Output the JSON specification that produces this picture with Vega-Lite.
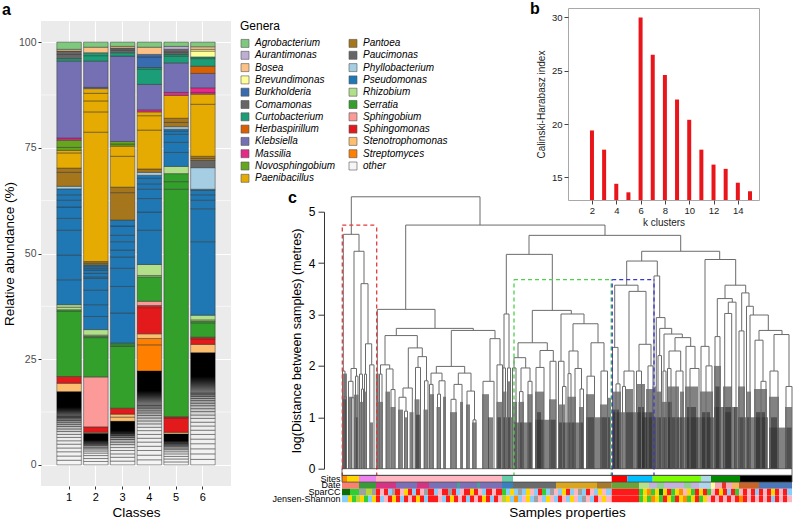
{
"$schema":"https://vega.github.io/schema/vega-lite/v6.json",
"background":"white",
"padding":{"left":2,"top":0,"right":0,"bottom":0},
"bounds":"flush",
"spacing":301,
"resolve":{"scale":{"x":"independent","y":"independent","color":"independent"},"axis":{"x":"independent","y":"independent"},"legend":{"color":"independent"}},
"config":{"font":"Liberation Sans","view":{"stroke":null}},
"datasets":{
"abund":[
{"c":1,"g":"other","v":1.1},{"c":1,"g":"other","v":1.0},{"c":1,"g":"other","v":1.0},{"c":1,"g":"other","v":0.9},{"c":1,"g":"other","v":0.9},{"c":1,"g":"other","v":0.8},{"c":1,"g":"other","v":0.8},{"c":1,"g":"other","v":0.7},{"c":1,"g":"other","v":0.7},{"c":1,"g":"other","v":0.6},{"c":1,"g":"other","v":0.6},{"c":1,"g":"other","v":0.5},{"c":1,"g":"other","v":0.5},{"c":1,"g":"other","v":0.4},{"c":1,"g":"other","v":0.4},{"c":1,"g":"other","v":0.3},{"c":1,"g":"other","v":0.3},{"c":1,"g":"other","v":5.8},
{"c":1,"g":"Stenotrophomonas","v":2.0},{"c":1,"g":"Sphingomonas","v":1.6},{"c":1,"g":"Serratia","v":15.4},{"c":1,"g":"Serratia","v":0.4},{"c":1,"g":"Rhizobium","v":0.6},{"c":1,"g":"Rhizobium","v":0.6},
{"c":1,"g":"Pseudomonas","v":5.9},{"c":1,"g":"Pseudomonas","v":5.8},{"c":1,"g":"Pseudomonas","v":5.9},{"c":1,"g":"Pseudomonas","v":2.8},{"c":1,"g":"Pseudomonas","v":2.7},{"c":1,"g":"Pseudomonas","v":1.6},{"c":1,"g":"Pseudomonas","v":1.3},{"c":1,"g":"Pseudomonas","v":1.4},
{"c":1,"g":"Phyllobacterium","v":0.6},{"c":1,"g":"Pantoea","v":3.3},{"c":1,"g":"Pantoea","v":1.0},{"c":1,"g":"Paenibacillus","v":3.6},{"c":1,"g":"Paenibacillus","v":0.6},{"c":1,"g":"Novosphingobium","v":0.7},{"c":1,"g":"Novosphingobium","v":1.7},{"c":1,"g":"Massilia","v":0.5},{"c":1,"g":"Klebsiella","v":18.2},{"c":1,"g":"Curtobacterium","v":0.6},{"c":1,"g":"Comamonas","v":1.0},{"c":1,"g":"Comamonas","v":0.8},{"c":1,"g":"Bosea","v":0.4},{"c":1,"g":"Agrobacterium","v":1.7},
{"c":2,"g":"other","v":0.8},{"c":2,"g":"other","v":0.7},{"c":2,"g":"other","v":0.7},{"c":2,"g":"other","v":0.6},{"c":2,"g":"other","v":0.5},{"c":2,"g":"other","v":0.5},{"c":2,"g":"other","v":0.4},{"c":2,"g":"other","v":0.4},{"c":2,"g":"other","v":0.3},{"c":2,"g":"other","v":0.3},{"c":2,"g":"other","v":2.2},
{"c":2,"g":"Stenotrophomonas","v":0.3},{"c":2,"g":"Sphingomonas","v":1.3},{"c":2,"g":"Sphingobium","v":11.8},{"c":2,"g":"Serratia","v":9.3},{"c":2,"g":"Serratia","v":0.3},{"c":2,"g":"Rhizobium","v":0.3},{"c":2,"g":"Rhizobium","v":1.3},
{"c":2,"g":"Pseudomonas","v":3.1},{"c":2,"g":"Pseudomonas","v":2.8},{"c":2,"g":"Pseudomonas","v":3.5},{"c":2,"g":"Pseudomonas","v":2.7},{"c":2,"g":"Pseudomonas","v":0.4},{"c":2,"g":"Pseudomonas","v":0.8},{"c":2,"g":"Pseudomonas","v":0.8},{"c":2,"g":"Pseudomonas","v":0.4},{"c":2,"g":"Pseudomonas","v":0.4},{"c":2,"g":"Pseudomonas","v":0.4},
{"c":2,"g":"Pantoea","v":0.4},{"c":2,"g":"Pantoea","v":0.4},{"c":2,"g":"Paenibacillus","v":30.6},{"c":2,"g":"Paenibacillus","v":4.8},{"c":2,"g":"Paenibacillus","v":2.6},{"c":2,"g":"Paenibacillus","v":1.8},{"c":2,"g":"Paenibacillus","v":1.1},{"c":2,"g":"Klebsiella","v":0.3},{"c":2,"g":"Klebsiella","v":6.2},{"c":2,"g":"Curtobacterium","v":1.3},{"c":2,"g":"Curtobacterium","v":0.7},{"c":2,"g":"Bosea","v":1.3},{"c":2,"g":"Agrobacterium","v":1.2},
{"c":3,"g":"other","v":0.9},{"c":3,"g":"other","v":0.9},{"c":3,"g":"other","v":0.8},{"c":3,"g":"other","v":0.8},{"c":3,"g":"other","v":0.7},{"c":3,"g":"other","v":0.7},{"c":3,"g":"other","v":0.6},{"c":3,"g":"other","v":0.6},{"c":3,"g":"other","v":0.5},{"c":3,"g":"other","v":0.5},{"c":3,"g":"other","v":0.4},{"c":3,"g":"other","v":0.4},{"c":3,"g":"other","v":2.5},
{"c":3,"g":"Stenotrophomonas","v":1.0},{"c":3,"g":"Stenotrophomonas","v":0.7},{"c":3,"g":"Sphingomonas","v":1.4},{"c":3,"g":"Serratia","v":14.6},{"c":3,"g":"Serratia","v":0.4},{"c":3,"g":"Serratia","v":0.4},
{"c":3,"g":"Pseudomonas","v":7.1},{"c":3,"g":"Pseudomonas","v":6.3},{"c":3,"g":"Pseudomonas","v":4.3},{"c":3,"g":"Pseudomonas","v":2.7},{"c":3,"g":"Pseudomonas","v":1.6},{"c":3,"g":"Pseudomonas","v":2.0},{"c":3,"g":"Pseudomonas","v":1.5},{"c":3,"g":"Pseudomonas","v":2.2},{"c":3,"g":"Pseudomonas","v":1.4},
{"c":3,"g":"Pantoea","v":6.5},{"c":3,"g":"Pantoea","v":1.3},{"c":3,"g":"Paenibacillus","v":7.3},{"c":3,"g":"Paenibacillus","v":2.4},{"c":3,"g":"Novosphingobium","v":0.5},{"c":3,"g":"Novosphingobium","v":0.6},{"c":3,"g":"Klebsiella","v":20.2},{"c":3,"g":"Curtobacterium","v":0.8},{"c":3,"g":"Comamonas","v":0.6},{"c":3,"g":"Comamonas","v":0.5},{"c":3,"g":"Bosea","v":0.4},{"c":3,"g":"Agrobacterium","v":1.0},
{"c":4,"g":"other","v":1.2},{"c":4,"g":"other","v":1.1},{"c":4,"g":"other","v":1.1},{"c":4,"g":"other","v":1.0},{"c":4,"g":"other","v":1.0},{"c":4,"g":"other","v":0.9},{"c":4,"g":"other","v":0.9},{"c":4,"g":"other","v":0.9},{"c":4,"g":"other","v":0.8},{"c":4,"g":"other","v":0.8},{"c":4,"g":"other","v":0.7},{"c":4,"g":"other","v":0.7},{"c":4,"g":"other","v":0.6},{"c":4,"g":"other","v":0.6},{"c":4,"g":"other","v":0.5},{"c":4,"g":"other","v":0.5},{"c":4,"g":"other","v":0.4},{"c":4,"g":"other","v":0.4},{"c":4,"g":"other","v":8.1},
{"c":4,"g":"Streptomyces","v":6.2},{"c":4,"g":"Streptomyces","v":1.5},{"c":4,"g":"Stenotrophomonas","v":1.1},{"c":4,"g":"Sphingomonas","v":6.2},{"c":4,"g":"Sphingomonas","v":0.5},{"c":4,"g":"Sphingobium","v":1.0},{"c":4,"g":"Serratia","v":5.8},{"c":4,"g":"Rhizobium","v":0.3},{"c":4,"g":"Rhizobium","v":2.6},
{"c":4,"g":"Pseudomonas","v":8.1},{"c":4,"g":"Pseudomonas","v":4.3},{"c":4,"g":"Pseudomonas","v":3.2},{"c":4,"g":"Pseudomonas","v":2.2},{"c":4,"g":"Pseudomonas","v":1.3},{"c":4,"g":"Pseudomonas","v":1.3},{"c":4,"g":"Pseudomonas","v":0.7},
{"c":4,"g":"Phyllobacterium","v":0.7},{"c":4,"g":"Pantoea","v":0.8},{"c":4,"g":"Paenibacillus","v":9.2},{"c":4,"g":"Paenibacillus","v":3.4},{"c":4,"g":"Paenibacillus","v":0.9},{"c":4,"g":"Massilia","v":0.5},{"c":4,"g":"Klebsiella","v":6.0},{"c":4,"g":"Curtobacterium","v":3.6},{"c":4,"g":"Curtobacterium","v":0.4},{"c":4,"g":"Burkholderia","v":2.5},{"c":4,"g":"Burkholderia","v":0.6},{"c":4,"g":"Bosea","v":1.7},{"c":4,"g":"Agrobacterium","v":1.2},
{"c":5,"g":"other","v":0.7},{"c":5,"g":"other","v":0.7},{"c":5,"g":"other","v":0.6},{"c":5,"g":"other","v":0.6},{"c":5,"g":"other","v":0.5},{"c":5,"g":"other","v":0.5},{"c":5,"g":"other","v":0.4},{"c":5,"g":"other","v":0.4},{"c":5,"g":"other","v":0.3},{"c":5,"g":"other","v":0.3},{"c":5,"g":"other","v":2.3},
{"c":5,"g":"Stenotrophomonas","v":0.4},{"c":5,"g":"Sphingomonas","v":3.4},{"c":5,"g":"Sphingomonas","v":0.3},{"c":5,"g":"Serratia","v":53.8},{"c":5,"g":"Serratia","v":1.8},{"c":5,"g":"Serratia","v":1.9},{"c":5,"g":"Rhizobium","v":1.7},
{"c":5,"g":"Pseudomonas","v":3.3},{"c":5,"g":"Pseudomonas","v":2.4},{"c":5,"g":"Pseudomonas","v":1.9},{"c":5,"g":"Pseudomonas","v":0.8},{"c":5,"g":"Pseudomonas","v":0.4},
{"c":5,"g":"Phyllobacterium","v":0.6},{"c":5,"g":"Pantoea","v":1.0},{"c":5,"g":"Pantoea","v":1.0},{"c":5,"g":"Paenibacillus","v":5.4},{"c":5,"g":"Massilia","v":0.7},{"c":5,"g":"Klebsiella","v":7.0},{"c":5,"g":"Curtobacterium","v":1.6},{"c":5,"g":"Curtobacterium","v":0.4},{"c":5,"g":"Comamonas","v":0.6},{"c":5,"g":"Comamonas","v":0.6},{"c":5,"g":"Aurantimonas","v":0.7},{"c":5,"g":"Agrobacterium","v":1.0},
{"c":6,"g":"other","v":1.3},{"c":6,"g":"other","v":1.3},{"c":6,"g":"other","v":1.2},{"c":6,"g":"other","v":1.2},{"c":6,"g":"other","v":1.1},{"c":6,"g":"other","v":1.1},{"c":6,"g":"other","v":1.0},{"c":6,"g":"other","v":1.0},{"c":6,"g":"other","v":0.9},{"c":6,"g":"other","v":0.9},{"c":6,"g":"other","v":0.8},{"c":6,"g":"other","v":0.8},{"c":6,"g":"other","v":0.7},{"c":6,"g":"other","v":0.7},{"c":6,"g":"other","v":0.6},{"c":6,"g":"other","v":0.6},{"c":6,"g":"other","v":0.5},{"c":6,"g":"other","v":0.5},{"c":6,"g":"other","v":0.4},{"c":6,"g":"other","v":0.4},{"c":6,"g":"other","v":9.5},
{"c":6,"g":"Stenotrophomonas","v":2.0},{"c":6,"g":"Sphingomonas","v":1.3},{"c":6,"g":"Sphingomonas","v":0.4},{"c":6,"g":"Serratia","v":3.4},{"c":6,"g":"Serratia","v":0.4},{"c":6,"g":"Rhizobium","v":0.3},{"c":6,"g":"Rhizobium","v":1.1},
{"c":6,"g":"Pseudomonas","v":17.4},{"c":6,"g":"Pseudomonas","v":7.8},{"c":6,"g":"Pseudomonas","v":2.0},{"c":6,"g":"Pseudomonas","v":1.3},{"c":6,"g":"Pseudomonas","v":1.0},{"c":6,"g":"Pseudomonas","v":0.3},
{"c":6,"g":"Phyllobacterium","v":5.1},{"c":6,"g":"Paucimonas","v":1.7},{"c":6,"g":"Pantoea","v":0.5},{"c":6,"g":"Pantoea","v":0.5},{"c":6,"g":"Paenibacillus","v":12.3},{"c":6,"g":"Paenibacillus","v":2.4},{"c":6,"g":"Massilia","v":0.4},{"c":6,"g":"Massilia","v":1.1},{"c":6,"g":"Klebsiella","v":3.4},{"c":6,"g":"Herbaspirillum","v":1.7},{"c":6,"g":"Curtobacterium","v":1.8},{"c":6,"g":"Curtobacterium","v":0.4},{"c":6,"g":"Brevundimonas","v":1.4},{"c":6,"g":"Brevundimonas","v":0.4},{"c":6,"g":"Bosea","v":0.6},{"c":6,"g":"Agrobacterium","v":1.1}
],
"minor":[{"m":12.5},{"m":37.5},{"m":62.5},{"m":87.5}],
"ch":[{"k":2,"v":19.4},{"k":3,"v":17.6},{"k":4,"v":14.4},{"k":5,"v":13.6},{"k":6,"v":30.0},{"k":7,"v":26.5},{"k":8,"v":24.6},{"k":9,"v":22.3},{"k":10,"v":20.4},{"k":11,"v":17.6},{"k":12,"v":16.2},{"k":13,"v":15.8},{"k":14,"v":14.5},{"k":15,"v":13.7}],
"vl":[
{"x":9.3,"y":4.56,"y2":5.29},{"x":138,"y":4.74,"y2":5.29},{"x":1.3,"y":1.9,"y2":4.56},{"x":0.5,"y":0,"y2":1.9},{"x":3,"y":1.4,"y2":1.9},{"x":2,"y":0,"y2":1.4},{"x":4.5,"y":0,"y2":1.4},{"x":17,"y":4.23,"y2":4.56},{"x":12,"y":1.95,"y2":4.23},{"x":9,"y":1.7,"y2":1.95},{"x":6.5,"y":0,"y2":1.7},{"x":11,"y":1.38,"y2":1.7},{"x":9.5,"y":0,"y2":1.38},{"x":12,"y":0,"y2":1.38},{"x":14.5,"y":1.8,"y2":1.95},{"x":13.5,"y":0,"y2":1.8},{"x":16,"y":0,"y2":1.8},{"x":22,"y":3.6,"y2":4.23},{"x":19,"y":1.84,"y2":3.6},{"x":17.5,"y":0,"y2":1.84},{"x":20.5,"y":1.55,"y2":1.84},{"x":19.5,"y":0,"y2":1.55},{"x":21.5,"y":0,"y2":1.55},{"x":26,"y":2.43,"y2":3.6},{"x":23.5,"y":1.84,"y2":2.43},{"x":22.5,"y":0,"y2":1.84},{"x":24.5,"y":0,"y2":1.84},{"x":29.7,"y":2.02,"y2":2.43},{"x":27.7,"y":0,"y2":2.02},{"x":32,"y":0,"y2":2.02},
{"x":63.7,"y":3.1,"y2":4.74},{"x":35.3,"y":0,"y2":3.1},{"x":93,"y":2.73,"y2":3.1},{"x":54.3,"y":2.59,"y2":2.73},{"x":43,"y":2.02,"y2":2.59},{"x":38.5,"y":1.84,"y2":2.02},{"x":37.5,"y":0,"y2":1.84},{"x":40,"y":0,"y2":1.84},{"x":47.7,"y":1.94,"y2":2.02},{"x":44.3,"y":0,"y2":1.94},{"x":51,"y":1.54,"y2":1.94},{"x":49,"y":0,"y2":1.54},{"x":53,"y":0,"y2":1.54},{"x":75.3,"y":2.35,"y2":2.59},{"x":66.3,"y":1.57,"y2":2.35},{"x":61,"y":1.39,"y2":1.57},{"x":57,"y":0,"y2":1.39},{"x":64,"y":1.12,"y2":1.39},{"x":62.5,"y":0,"y2":1.12},{"x":65.5,"y":0,"y2":1.12},{"x":70.3,"y":0,"y2":1.57},{"x":80.3,"y":2.18,"y2":2.35},{"x":76,"y":1.97,"y2":2.18},{"x":73.5,"y":0,"y2":1.97},{"x":78.5,"y":0,"y2":1.97},{"x":84.5,"y":1.71,"y2":2.18},{"x":82.5,"y":0,"y2":1.71},{"x":86,"y":0,"y2":1.71},
{"x":131.3,"y":2.69,"y2":2.73},{"x":109.3,"y":1.99,"y2":2.69},{"x":94.3,"y":1.86,"y2":1.99},{"x":89,"y":1.64,"y2":1.86},{"x":87.5,"y":0,"y2":1.64},{"x":91,"y":0,"y2":1.64},{"x":100,"y":1.71,"y2":1.86},{"x":97,"y":1.45,"y2":1.71},{"x":95.5,"y":0,"y2":1.45},{"x":98.5,"y":0,"y2":1.45},{"x":103,"y":0,"y2":1.71},{"x":122.7,"y":1.86,"y2":1.99},{"x":116.3,"y":1.64,"y2":1.86},{"x":112,"y":1.35,"y2":1.64},{"x":109,"y":0,"y2":1.35},{"x":114,"y":0,"y2":1.35},{"x":120,"y":0,"y2":1.64},{"x":129,"y":1.51,"y2":1.86},{"x":125,"y":0,"y2":1.51},{"x":132.5,"y":0.95,"y2":1.51},{"x":131,"y":0,"y2":0.95},{"x":134,"y":0,"y2":0.95},{"x":153,"y":2.53,"y2":2.69},{"x":148,"y":1.7,"y2":2.53},{"x":141,"y":0,"y2":1.7},{"x":152,"y":0,"y2":1.7},{"x":158,"y":2.02,"y2":2.53},{"x":155,"y":0,"y2":2.02},{"x":160.5,"y":0,"y2":2.02},
{"x":263,"y":4.54,"y2":4.74},{"x":187,"y":4.17,"y2":4.54},{"x":164.3,"y":3.01,"y2":4.17},{"x":162,"y":1.96,"y2":3.01},{"x":161,"y":0,"y2":1.96},{"x":163.5,"y":0,"y2":1.96},{"x":167,"y":1.96,"y2":3.01},{"x":165.5,"y":0,"y2":1.96},{"x":168.5,"y":0,"y2":1.96},{"x":210.3,"y":3.08,"y2":4.17},{"x":190.3,"y":2.45,"y2":3.08},{"x":176,"y":2.16,"y2":2.45},{"x":172,"y":1.96,"y2":2.16},{"x":170.5,"y":0,"y2":1.96},{"x":174,"y":0,"y2":1.96},{"x":183.7,"y":1.96,"y2":2.16},{"x":179,"y":1.5,"y2":1.96},{"x":177.5,"y":0,"y2":1.5},{"x":181,"y":0,"y2":1.5},{"x":188,"y":1.7,"y2":1.96},{"x":186,"y":0,"y2":1.7},{"x":190,"y":0,"y2":1.7},{"x":205.3,"y":2.3,"y2":2.45},{"x":198,"y":1.97,"y2":2.3},{"x":194,"y":0,"y2":1.97},{"x":202,"y":0,"y2":1.97},{"x":211.3,"y":2.09,"y2":2.3},{"x":208,"y":0,"y2":2.09},{"x":214,"y":0,"y2":2.09},{"x":229.3,"y":3.01,"y2":3.08},{"x":219,"y":2.09,"y2":3.01},{"x":216.5,"y":0,"y2":2.09},{"x":222,"y":1.6,"y2":2.09},{"x":220.5,"y":0,"y2":1.6},{"x":224,"y":0,"y2":1.6},{"x":242,"y":2.82,"y2":3.01},{"x":231,"y":2.29,"y2":2.82},{"x":227,"y":1.85,"y2":2.29},{"x":226,"y":0,"y2":1.85},{"x":229,"y":0,"y2":1.85},{"x":236,"y":1.95,"y2":2.29},{"x":233,"y":0,"y2":1.95},{"x":239.5,"y":1.55,"y2":1.95},{"x":238,"y":0,"y2":1.55},{"x":241.5,"y":0,"y2":1.55},{"x":256,"y":2.45,"y2":2.82},{"x":249,"y":1.8,"y2":2.45},{"x":245,"y":0,"y2":1.8},{"x":252.5,"y":0,"y2":1.8},{"x":262,"y":1.9,"y2":2.45},{"x":259,"y":0,"y2":1.9},{"x":265.5,"y":0,"y2":1.9},
{"x":338.7,"y":4.23,"y2":4.54},{"x":299.7,"y":4.04,"y2":4.23},{"x":284.7,"y":3.57,"y2":4.04},{"x":272.7,"y":2.36,"y2":3.57},{"x":270.5,"y":0,"y2":2.36},{"x":276,"y":1.65,"y2":2.36},{"x":274,"y":0,"y2":1.65},{"x":278,"y":0,"y2":1.65},{"x":296,"y":3.45,"y2":3.57},{"x":287,"y":1.9,"y2":3.45},{"x":282,"y":1.6,"y2":1.9},{"x":280.5,"y":0,"y2":1.6},{"x":283.5,"y":0,"y2":1.6},{"x":292,"y":0,"y2":1.9},{"x":304,"y":2.42,"y2":3.45},{"x":297,"y":1.9,"y2":2.42},{"x":294.5,"y":0,"y2":1.9},{"x":299.5,"y":0,"y2":1.9},{"x":309,"y":2.0,"y2":2.42},{"x":306,"y":0,"y2":2.0},{"x":311,"y":0,"y2":2.0},{"x":315.3,"y":3.75,"y2":4.04},{"x":312,"y":1.7,"y2":3.75},{"x":317.7,"y":2.94,"y2":3.75},{"x":314.3,"y":0,"y2":2.94},{"x":323,"y":2.73,"y2":2.94},{"x":317.7,"y":2.2,"y2":2.73},{"x":316,"y":0,"y2":2.2},{"x":319.5,"y":0,"y2":2.2},{"x":329.7,"y":2.62,"y2":2.73},{"x":322,"y":1.9,"y2":2.62},{"x":321,"y":0,"y2":1.9},{"x":324,"y":0,"y2":1.9},{"x":340.3,"y":2.55,"y2":2.62},{"x":333,"y":2.29,"y2":2.55},{"x":327,"y":1.95,"y2":2.29},{"x":325.5,"y":0,"y2":1.95},{"x":329,"y":0,"y2":1.95},{"x":338.7,"y":1.9,"y2":2.29},{"x":334,"y":0,"y2":1.9},{"x":341,"y":0,"y2":1.9},{"x":348.7,"y":2.38,"y2":2.55},{"x":344,"y":0,"y2":2.38},{"x":353,"y":1.95,"y2":2.38},{"x":348,"y":0,"y2":1.95},{"x":357,"y":0,"y2":1.95},
{"x":377.7,"y":4.07,"y2":4.23},{"x":363,"y":2.38,"y2":4.07},{"x":359,"y":0,"y2":2.38},{"x":367,"y":2.0,"y2":2.38},{"x":364,"y":0,"y2":2.0},{"x":370,"y":0,"y2":2.0},{"x":393.7,"y":3.57,"y2":4.07},{"x":383,"y":3.31,"y2":3.57},{"x":375.3,"y":2.57,"y2":3.31},{"x":373,"y":0,"y2":2.57},{"x":378,"y":0,"y2":2.57},{"x":390.3,"y":3.24,"y2":3.31},{"x":386.3,"y":3.02,"y2":3.24},{"x":382.7,"y":0,"y2":3.02},{"x":389.7,"y":0,"y2":3.02},{"x":394,"y":0,"y2":3.24},{"x":403.7,"y":3.42,"y2":3.57},{"x":399.7,"y":2.68,"y2":3.42},{"x":397,"y":0,"y2":2.68},{"x":402,"y":0,"y2":2.68},{"x":407,"y":3.16,"y2":3.42},{"x":404.5,"y":0,"y2":3.16},{"x":411.3,"y":2.99,"y2":3.16},{"x":408,"y":0,"y2":2.99},{"x":426.3,"y":2.69,"y2":2.99},{"x":417,"y":2.5,"y2":2.69},{"x":413,"y":0,"y2":2.5},{"x":421,"y":1.7,"y2":2.5},{"x":419,"y":0,"y2":1.7},{"x":424,"y":0,"y2":1.7},{"x":440,"y":2.61,"y2":2.69},{"x":432,"y":1.9,"y2":2.61},{"x":428,"y":0,"y2":1.9},{"x":436,"y":0,"y2":1.9},{"x":447,"y":1.6,"y2":2.61},{"x":444,"y":0,"y2":1.6},{"x":450,"y":0,"y2":1.6}
],
"hl":[
{"x":9.3,"x2":138,"y":5.29},{"x":1.3,"x2":17,"y":4.56},{"x":0.5,"x2":3,"y":1.9},{"x":2,"x2":4.5,"y":1.4},{"x":12,"x2":22,"y":4.23},{"x":9,"x2":14.5,"y":1.95},{"x":6.5,"x2":11,"y":1.7},{"x":9.5,"x2":12,"y":1.38},{"x":13.5,"x2":16,"y":1.8},{"x":19,"x2":26,"y":3.6},{"x":17.5,"x2":20.5,"y":1.84},{"x":19.5,"x2":21.5,"y":1.55},{"x":23.5,"x2":29.7,"y":2.43},{"x":22.5,"x2":24.5,"y":1.84},{"x":27.7,"x2":32,"y":2.02},
{"x":63.7,"x2":263,"y":4.74},{"x":35.3,"x2":93,"y":3.1},{"x":54.3,"x2":131.3,"y":2.73},{"x":43,"x2":75.3,"y":2.59},{"x":38.5,"x2":47.7,"y":2.02},{"x":37.5,"x2":40,"y":1.84},{"x":44.3,"x2":51,"y":1.94},{"x":49,"x2":53,"y":1.54},{"x":66.3,"x2":80.3,"y":2.35},{"x":61,"x2":70.3,"y":1.57},{"x":57,"x2":64,"y":1.39},{"x":62.5,"x2":65.5,"y":1.12},{"x":76,"x2":84.5,"y":2.18},{"x":73.5,"x2":78.5,"y":1.97},{"x":82.5,"x2":86,"y":1.71},{"x":109.3,"x2":153,"y":2.69},{"x":94.3,"x2":122.7,"y":1.99},{"x":89,"x2":100,"y":1.86},{"x":87.5,"x2":91,"y":1.64},{"x":97,"x2":103,"y":1.71},{"x":95.5,"x2":98.5,"y":1.45},{"x":116.3,"x2":129,"y":1.86},{"x":112,"x2":120,"y":1.64},{"x":109,"x2":114,"y":1.35},{"x":125,"x2":132.5,"y":1.51},{"x":131,"x2":134,"y":0.95},{"x":148,"x2":158,"y":2.53},{"x":141,"x2":152,"y":1.7},{"x":155,"x2":160.5,"y":2.02},
{"x":187,"x2":338.7,"y":4.54},{"x":164.3,"x2":210.3,"y":4.17},{"x":162,"x2":167,"y":3.01},{"x":161,"x2":163.5,"y":1.96},{"x":165.5,"x2":168.5,"y":1.96},{"x":190.3,"x2":229.3,"y":3.08},{"x":176,"x2":205.3,"y":2.45},{"x":172,"x2":183.7,"y":2.16},{"x":170.5,"x2":174,"y":1.96},{"x":179,"x2":188,"y":1.96},{"x":177.5,"x2":181,"y":1.5},{"x":186,"x2":190,"y":1.7},{"x":198,"x2":211.3,"y":2.3},{"x":194,"x2":202,"y":1.97},{"x":208,"x2":214,"y":2.09},{"x":219,"x2":242,"y":3.01},{"x":216.5,"x2":222,"y":2.09},{"x":220.5,"x2":224,"y":1.6},{"x":231,"x2":256,"y":2.82},{"x":227,"x2":236,"y":2.29},{"x":226,"x2":229,"y":1.85},{"x":233,"x2":239.5,"y":1.95},{"x":238,"x2":241.5,"y":1.55},{"x":249,"x2":262,"y":2.45},{"x":245,"x2":252.5,"y":1.8},{"x":259,"x2":265.5,"y":1.9},
{"x":299.7,"x2":377.7,"y":4.23},{"x":284.7,"x2":315.3,"y":4.04},{"x":272.7,"x2":296,"y":3.57},{"x":270.5,"x2":276,"y":2.36},{"x":274,"x2":278,"y":1.65},{"x":287,"x2":304,"y":3.45},{"x":282,"x2":292,"y":1.9},{"x":280.5,"x2":283.5,"y":1.6},{"x":297,"x2":309,"y":2.42},{"x":294.5,"x2":299.5,"y":1.9},{"x":306,"x2":311,"y":2.0},{"x":312,"x2":317.7,"y":3.75},{"x":314.3,"x2":323,"y":2.94},{"x":317.7,"x2":329.7,"y":2.73},{"x":316,"x2":319.5,"y":2.2},{"x":322,"x2":340.3,"y":2.62},{"x":321,"x2":324,"y":1.9},{"x":333,"x2":348.7,"y":2.55},{"x":327,"x2":338.7,"y":2.29},{"x":325.5,"x2":329,"y":1.95},{"x":334,"x2":341,"y":1.9},{"x":344,"x2":353,"y":2.38},{"x":348,"x2":357,"y":1.95},{"x":363,"x2":393.7,"y":4.07},{"x":359,"x2":367,"y":2.38},{"x":364,"x2":370,"y":2.0},{"x":383,"x2":403.7,"y":3.57},{"x":375.3,"x2":390.3,"y":3.31},{"x":373,"x2":378,"y":2.57},{"x":386.3,"x2":394,"y":3.24},{"x":382.7,"x2":389.7,"y":3.02},{"x":399.7,"x2":407,"y":3.42},{"x":397,"x2":402,"y":2.68},{"x":404.5,"x2":411.3,"y":3.16},{"x":408,"x2":426.3,"y":2.99},{"x":417,"x2":440,"y":2.69},{"x":413,"x2":421,"y":2.5},{"x":419,"x2":424,"y":1.7},{"x":432,"x2":447,"y":2.61},{"x":428,"x2":436,"y":1.9},{"x":444,"x2":450,"y":1.6}
],
"bd":[
{"x":0.5,"x2":5,"y":1.85},{"x":1,"x2":4,"y":1.35},{"x":7,"x2":10.5,"y":1.4},{"x":12,"x2":16.5,"y":1.44},{"x":12.5,"x2":16,"y":1.0},{"x":17,"x2":21,"y":1.3},{"x":22,"x2":25,"y":1.5},{"x":28,"x2":31,"y":0.9},
{"x":33.8,"x2":36.8,"y":1.85},{"x":36.5,"x2":41,"y":1.3},{"x":43.5,"x2":48,"y":1.5},{"x":48.5,"x2":53.5,"y":1.2},{"x":56,"x2":61,"y":1.15},{"x":62,"x2":66,"y":1.0},{"x":67.5,"x2":71.5,"y":1.1},{"x":72.5,"x2":77.5,"y":1.35},{"x":74,"x2":78,"y":1.05},{"x":81.5,"x2":86,"y":1.15},{"x":88,"x2":92,"y":1.45},{"x":94.5,"x2":99,"y":1.2},{"x":101,"x2":104,"y":1.4},{"x":108,"x2":115,"y":1.1},{"x":118,"x2":121,"y":1.3},{"x":124,"x2":128,"y":1.25},{"x":130,"x2":134.5,"y":0.9},{"x":140,"x2":147,"y":1.45},{"x":146,"x2":151,"y":1.0},{"x":154.5,"x2":160,"y":1.3},{"x":155,"x2":159,"y":1.0},
{"x":160.5,"x2":164.5,"y":1.5},{"x":165,"x2":169,"y":1.7},{"x":170,"x2":175,"y":1.3},{"x":176.5,"x2":182,"y":1.3},{"x":185.5,"x2":190.5,"y":1.45},{"x":193,"x2":202,"y":1.5},{"x":195,"x2":199,"y":1.1},{"x":207,"x2":214.5,"y":1.35},{"x":216,"x2":223,"y":1.25},{"x":225.5,"x2":234,"y":1.4},{"x":237,"x2":242,"y":1.2},{"x":244,"x2":253,"y":1.45},{"x":258,"x2":266,"y":1.25},{"x":266,"x2":269,"y":1.38},
{"x":270,"x2":279,"y":1.5},{"x":271,"x2":277,"y":1.15},{"x":284,"x2":291,"y":1.55},{"x":294,"x2":303,"y":1.65},{"x":296,"x2":302,"y":1.2},{"x":304,"x2":311,"y":1.55},{"x":310.5,"x2":314,"y":1.6},{"x":314.5,"x2":320,"y":1.5},{"x":320,"x2":330,"y":1.3},{"x":326,"x2":337,"y":1.6},{"x":338,"x2":342,"y":1.5},{"x":343,"x2":356,"y":1.6},{"x":345,"x2":354,"y":1.2},{"x":358,"x2":371,"y":1.5},{"x":360,"x2":368,"y":1.1},{"x":372,"x2":379,"y":2.0},{"x":373,"x2":378,"y":1.6},{"x":381,"x2":390,"y":1.6},{"x":383,"x2":389,"y":1.1},{"x":392,"x2":396,"y":1.2},{"x":396,"x2":403,"y":1.6},{"x":405,"x2":409,"y":1.5},{"x":412,"x2":425,"y":1.55},{"x":414,"x2":423,"y":1.1},{"x":427,"x2":437,"y":1.4},{"x":429,"x2":435,"y":1.0},{"x":443,"x2":450,"y":1.2},
{"x":160,"x2":170,"y":1.0},{"x":172,"x2":190,"y":0.9},{"x":193,"x2":214,"y":0.95},{"x":216,"x2":242,"y":0.9},{"x":244,"x2":268,"y":1.0},{"x":270,"x2":312,"y":1.1},{"x":300,"x2":358,"y":1.0},{"x":358,"x2":372,"y":1.0},{"x":372,"x2":395,"y":1.2},{"x":396,"x2":426,"y":1.0},{"x":427,"x2":450,"y":0.8}
],
"bx":[
{"box":"A","x":0.3,"x2":0.3,"y":-0.15,"y2":4.74},{"box":"A","x":34.7,"x2":34.7,"y":-0.15,"y2":4.74},{"box":"A","x":0.3,"x2":34.7,"y":4.74,"y2":4.74},
{"box":"B","x":172,"x2":172,"y":-0.15,"y2":3.68},{"box":"B","x":269.2,"x2":269.2,"y":-0.15,"y2":3.68},{"box":"B","x":172,"x2":269.2,"y":3.68,"y2":3.68},
{"box":"C","x":270.2,"x2":270.2,"y":-0.15,"y2":3.68},{"box":"C","x":312,"x2":312,"y":-0.15,"y2":3.68},{"box":"C","x":270.2,"x2":312,"y":3.68,"y2":3.68}
],
"outline":[{"r":"blank","x":0,"x2":450},{"r":"Sites","x":0,"x2":450}],
"strip":[
{"r":"Sites","x":0,"x2":5,"k":"s1"},{"r":"Sites","x":5,"x2":17,"k":"s2"},{"r":"Sites","x":17,"x2":34,"k":"s3"},{"r":"Sites","x":34,"x2":160,"k":"s4"},{"r":"Sites","x":160,"x2":171,"k":"s5"},{"r":"Sites","x":171,"x2":269.7,"k":"s6"},{"r":"Sites","x":269.7,"x2":285.3,"k":"s7"},{"r":"Sites","x":285.3,"x2":310.7,"k":"s8"},{"r":"Sites","x":310.7,"x2":359,"k":"s9"},{"r":"Sites","x":359,"x2":369,"k":"s10"},{"r":"Sites","x":369,"x2":398,"k":"s11"},{"r":"Sites","x":398,"x2":450,"k":"s12"},
{"r":"Date","x":0,"x2":17,"k":"d1"},{"r":"Date","x":17,"x2":34,"k":"d2"},{"r":"Date","x":34,"x2":54,"k":"d3"},{"r":"Date","x":54,"x2":75,"k":"d4"},{"r":"Date","x":75,"x2":87,"k":"d3"},{"r":"Date","x":87,"x2":115,"k":"d4"},{"r":"Date","x":115,"x2":118,"k":"d5"},{"r":"Date","x":118,"x2":135,"k":"d4"},{"r":"Date","x":135,"x2":138,"k":"d5"},{"r":"Date","x":138,"x2":160,"k":"d4"},{"r":"Date","x":160,"x2":171,"k":"d6"},{"r":"Date","x":171,"x2":214,"k":"d7"},{"r":"Date","x":214,"x2":255,"k":"d8"},{"r":"Date","x":255,"x2":269.7,"k":"d9"},{"r":"Date","x":269.7,"x2":297,"k":"d10"},{"r":"Date","x":297,"x2":307,"k":"d11"},{"r":"Date","x":307,"x2":315,"k":"d12"},{"r":"Date","x":315,"x2":322,"k":"d13"},{"r":"Date","x":322,"x2":342,"k":"d12"},{"r":"Date","x":342,"x2":349,"k":"d13"},{"r":"Date","x":349,"x2":357,"k":"d12"},{"r":"Date","x":357,"x2":369,"k":"d14"},{"r":"Date","x":369,"x2":373,"k":"d15"},{"r":"Date","x":373,"x2":380,"k":"d16"},{"r":"Date","x":380,"x2":384,"k":"d17"},{"r":"Date","x":384,"x2":390,"k":"d16"},{"r":"Date","x":390,"x2":397,"k":"d18"},{"r":"Date","x":397,"x2":417,"k":"d19"},{"r":"Date","x":417,"x2":450,"k":"d20"},
{"r":"SparCC","x":0,"x2":8,"k":"c7"},{"r":"SparCC","x":8,"x2":17,"k":"c6"},{"r":"SparCC","x":17,"x2":24,"k":"c4"},{"r":"SparCC","x":24,"x2":30,"k":"c9"},{"r":"SparCC","x":30,"x2":34,"k":"c4"},{"r":"SparCC","x":34,"x2":38,"k":"c1"},{"r":"SparCC","x":38,"x2":42,"k":"c2"},{"r":"SparCC","x":42,"x2":46,"k":"c1"},{"r":"SparCC","x":46,"x2":50,"k":"c3"},{"r":"SparCC","x":50,"x2":53,"k":"c4"},{"r":"SparCC","x":53,"x2":58,"k":"c1"},{"r":"SparCC","x":58,"x2":62,"k":"c2"},{"r":"SparCC","x":62,"x2":66,"k":"c5"},{"r":"SparCC","x":66,"x2":70,"k":"c1"},{"r":"SparCC","x":70,"x2":74,"k":"c3"},{"r":"SparCC","x":74,"x2":78,"k":"c1"},{"r":"SparCC","x":78,"x2":82,"k":"c2"},{"r":"SparCC","x":82,"x2":86,"k":"c4"},{"r":"SparCC","x":86,"x2":92,"k":"c1"},{"r":"SparCC","x":92,"x2":96,"k":"c3"},{"r":"SparCC","x":96,"x2":100,"k":"c2"},{"r":"SparCC","x":100,"x2":106,"k":"c1"},{"r":"SparCC","x":106,"x2":110,"k":"c4"},{"r":"SparCC","x":110,"x2":114,"k":"c1"},{"r":"SparCC","x":114,"x2":118,"k":"c3"},{"r":"SparCC","x":118,"x2":122,"k":"c2"},{"r":"SparCC","x":122,"x2":128,"k":"c1"},{"r":"SparCC","x":128,"x2":132,"k":"c5"},{"r":"SparCC","x":132,"x2":136,"k":"c1"},{"r":"SparCC","x":136,"x2":140,"k":"c2"},{"r":"SparCC","x":140,"x2":144,"k":"c3"},{"r":"SparCC","x":144,"x2":150,"k":"c1"},{"r":"SparCC","x":150,"x2":154,"k":"c2"},{"r":"SparCC","x":154,"x2":160,"k":"c1"},{"r":"SparCC","x":160,"x2":164,"k":"c6"},{"r":"SparCC","x":164,"x2":168,"k":"c3"},{"r":"SparCC","x":168,"x2":172,"k":"c5"},{"r":"SparCC","x":172,"x2":176,"k":"c3"},{"r":"SparCC","x":176,"x2":180,"k":"c4"},{"r":"SparCC","x":180,"x2":184,"k":"c3"},{"r":"SparCC","x":184,"x2":188,"k":"c5"},{"r":"SparCC","x":188,"x2":192,"k":"c2"},{"r":"SparCC","x":192,"x2":196,"k":"c3"},{"r":"SparCC","x":196,"x2":200,"k":"c1"},{"r":"SparCC","x":200,"x2":204,"k":"c6"},{"r":"SparCC","x":204,"x2":208,"k":"c3"},{"r":"SparCC","x":208,"x2":212,"k":"c4"},{"r":"SparCC","x":212,"x2":216,"k":"c2"},{"r":"SparCC","x":216,"x2":220,"k":"c3"},{"r":"SparCC","x":220,"x2":224,"k":"c5"},{"r":"SparCC","x":224,"x2":228,"k":"c1"},{"r":"SparCC","x":228,"x2":232,"k":"c3"},{"r":"SparCC","x":232,"x2":236,"k":"c2"},{"r":"SparCC","x":236,"x2":240,"k":"c4"},{"r":"SparCC","x":240,"x2":244,"k":"c3"},{"r":"SparCC","x":244,"x2":248,"k":"c1"},{"r":"SparCC","x":248,"x2":252,"k":"c2"},{"r":"SparCC","x":252,"x2":256,"k":"c3"},{"r":"SparCC","x":256,"x2":260,"k":"c5"},{"r":"SparCC","x":260,"x2":264,"k":"c2"},{"r":"SparCC","x":264,"x2":269.7,"k":"c3"},{"r":"SparCC","x":269.7,"x2":297,"k":"c1"},{"r":"SparCC","x":297,"x2":301,"k":"c6"},{"r":"SparCC","x":301,"x2":305,"k":"c5"},{"r":"SparCC","x":305,"x2":309,"k":"c8"},{"r":"SparCC","x":309,"x2":313,"k":"c6"},{"r":"SparCC","x":313,"x2":317,"k":"c5"},{"r":"SparCC","x":317,"x2":321,"k":"c7"},{"r":"SparCC","x":321,"x2":325,"k":"c5"},{"r":"SparCC","x":325,"x2":329,"k":"c1"},{"r":"SparCC","x":329,"x2":333,"k":"c6"},{"r":"SparCC","x":333,"x2":337,"k":"c5"},{"r":"SparCC","x":337,"x2":341,"k":"c8"},{"r":"SparCC","x":341,"x2":345,"k":"c2"},{"r":"SparCC","x":345,"x2":349,"k":"c5"},{"r":"SparCC","x":349,"x2":353,"k":"c6"},{"r":"SparCC","x":353,"x2":357,"k":"c1"},{"r":"SparCC","x":357,"x2":361,"k":"c5"},{"r":"SparCC","x":361,"x2":365,"k":"c1"},{"r":"SparCC","x":365,"x2":369,"k":"c6"},{"r":"SparCC","x":369,"x2":373,"k":"c2"},{"r":"SparCC","x":373,"x2":377,"k":"c1"},{"r":"SparCC","x":377,"x2":381,"k":"c5"},{"r":"SparCC","x":381,"x2":385,"k":"c1"},{"r":"SparCC","x":385,"x2":389,"k":"c3"},{"r":"SparCC","x":389,"x2":393,"k":"c1"},{"r":"SparCC","x":393,"x2":397,"k":"c6"},{"r":"SparCC","x":397,"x2":401,"k":"c2"},{"r":"SparCC","x":401,"x2":405,"k":"c1"},{"r":"SparCC","x":405,"x2":409,"k":"c2"},{"r":"SparCC","x":409,"x2":413,"k":"c1"},{"r":"SparCC","x":413,"x2":417,"k":"c3"},{"r":"SparCC","x":417,"x2":421,"k":"c1"},{"r":"SparCC","x":421,"x2":425,"k":"c2"},{"r":"SparCC","x":425,"x2":429,"k":"c1"},{"r":"SparCC","x":429,"x2":433,"k":"c5"},{"r":"SparCC","x":433,"x2":437,"k":"c1"},{"r":"SparCC","x":437,"x2":441,"k":"c2"},{"r":"SparCC","x":441,"x2":445,"k":"c1"},{"r":"SparCC","x":445,"x2":450,"k":"c3"},
{"r":"Jensen-Shannon","x":0,"x2":6,"k":"c3"},{"r":"Jensen-Shannon","x":6,"x2":10,"k":"c5"},{"r":"Jensen-Shannon","x":10,"x2":14,"k":"c6"},{"r":"Jensen-Shannon","x":14,"x2":18,"k":"c9"},{"r":"Jensen-Shannon","x":18,"x2":22,"k":"c5"},{"r":"Jensen-Shannon","x":22,"x2":26,"k":"c6"},{"r":"Jensen-Shannon","x":26,"x2":30,"k":"c3"},{"r":"Jensen-Shannon","x":30,"x2":34,"k":"c5"},{"r":"Jensen-Shannon","x":34,"x2":38,"k":"c1"},{"r":"Jensen-Shannon","x":38,"x2":42,"k":"c3"},{"r":"Jensen-Shannon","x":42,"x2":46,"k":"c2"},{"r":"Jensen-Shannon","x":46,"x2":50,"k":"c1"},{"r":"Jensen-Shannon","x":50,"x2":54,"k":"c5"},{"r":"Jensen-Shannon","x":54,"x2":58,"k":"c1"},{"r":"Jensen-Shannon","x":58,"x2":62,"k":"c3"},{"r":"Jensen-Shannon","x":62,"x2":66,"k":"c1"},{"r":"Jensen-Shannon","x":66,"x2":70,"k":"c2"},{"r":"Jensen-Shannon","x":70,"x2":74,"k":"c1"},{"r":"Jensen-Shannon","x":74,"x2":78,"k":"c5"},{"r":"Jensen-Shannon","x":78,"x2":82,"k":"c1"},{"r":"Jensen-Shannon","x":82,"x2":86,"k":"c3"},{"r":"Jensen-Shannon","x":86,"x2":96,"k":"c1"},{"r":"Jensen-Shannon","x":96,"x2":100,"k":"c2"},{"r":"Jensen-Shannon","x":100,"x2":104,"k":"c3"},{"r":"Jensen-Shannon","x":104,"x2":108,"k":"c1"},{"r":"Jensen-Shannon","x":108,"x2":112,"k":"c5"},{"r":"Jensen-Shannon","x":112,"x2":116,"k":"c1"},{"r":"Jensen-Shannon","x":116,"x2":120,"k":"c2"},{"r":"Jensen-Shannon","x":120,"x2":124,"k":"c1"},{"r":"Jensen-Shannon","x":124,"x2":128,"k":"c3"},{"r":"Jensen-Shannon","x":128,"x2":132,"k":"c1"},{"r":"Jensen-Shannon","x":132,"x2":136,"k":"c2"},{"r":"Jensen-Shannon","x":136,"x2":140,"k":"c1"},{"r":"Jensen-Shannon","x":140,"x2":144,"k":"c5"},{"r":"Jensen-Shannon","x":144,"x2":148,"k":"c1"},{"r":"Jensen-Shannon","x":148,"x2":152,"k":"c3"},{"r":"Jensen-Shannon","x":152,"x2":156,"k":"c1"},{"r":"Jensen-Shannon","x":156,"x2":160,"k":"c2"},{"r":"Jensen-Shannon","x":160,"x2":164,"k":"c9"},{"r":"Jensen-Shannon","x":164,"x2":168,"k":"c5"},{"r":"Jensen-Shannon","x":168,"x2":172,"k":"c3"},{"r":"Jensen-Shannon","x":172,"x2":176,"k":"c8"},{"r":"Jensen-Shannon","x":176,"x2":180,"k":"c3"},{"r":"Jensen-Shannon","x":180,"x2":184,"k":"c2"},{"r":"Jensen-Shannon","x":184,"x2":188,"k":"c5"},{"r":"Jensen-Shannon","x":188,"x2":192,"k":"c3"},{"r":"Jensen-Shannon","x":192,"x2":196,"k":"c4"},{"r":"Jensen-Shannon","x":196,"x2":200,"k":"c2"},{"r":"Jensen-Shannon","x":200,"x2":204,"k":"c3"},{"r":"Jensen-Shannon","x":204,"x2":208,"k":"c5"},{"r":"Jensen-Shannon","x":208,"x2":212,"k":"c2"},{"r":"Jensen-Shannon","x":212,"x2":216,"k":"c3"},{"r":"Jensen-Shannon","x":216,"x2":220,"k":"c1"},{"r":"Jensen-Shannon","x":220,"x2":224,"k":"c2"},{"r":"Jensen-Shannon","x":224,"x2":228,"k":"c3"},{"r":"Jensen-Shannon","x":228,"x2":232,"k":"c5"},{"r":"Jensen-Shannon","x":232,"x2":236,"k":"c2"},{"r":"Jensen-Shannon","x":236,"x2":240,"k":"c3"},{"r":"Jensen-Shannon","x":240,"x2":244,"k":"c4"},{"r":"Jensen-Shannon","x":244,"x2":248,"k":"c2"},{"r":"Jensen-Shannon","x":248,"x2":252,"k":"c3"},{"r":"Jensen-Shannon","x":252,"x2":256,"k":"c1"},{"r":"Jensen-Shannon","x":256,"x2":260,"k":"c2"},{"r":"Jensen-Shannon","x":260,"x2":264,"k":"c5"},{"r":"Jensen-Shannon","x":264,"x2":269.7,"k":"c2"},{"r":"Jensen-Shannon","x":269.7,"x2":297,"k":"c1"},{"r":"Jensen-Shannon","x":297,"x2":301,"k":"c6"},{"r":"Jensen-Shannon","x":301,"x2":305,"k":"c5"},{"r":"Jensen-Shannon","x":305,"x2":309,"k":"c6"},{"r":"Jensen-Shannon","x":309,"x2":313,"k":"c8"},{"r":"Jensen-Shannon","x":313,"x2":317,"k":"c5"},{"r":"Jensen-Shannon","x":317,"x2":321,"k":"c6"},{"r":"Jensen-Shannon","x":321,"x2":325,"k":"c1"},{"r":"Jensen-Shannon","x":325,"x2":329,"k":"c5"},{"r":"Jensen-Shannon","x":329,"x2":333,"k":"c6"},{"r":"Jensen-Shannon","x":333,"x2":337,"k":"c1"},{"r":"Jensen-Shannon","x":337,"x2":341,"k":"c5"},{"r":"Jensen-Shannon","x":341,"x2":345,"k":"c8"},{"r":"Jensen-Shannon","x":345,"x2":349,"k":"c6"},{"r":"Jensen-Shannon","x":349,"x2":353,"k":"c5"},{"r":"Jensen-Shannon","x":353,"x2":357,"k":"c1"},{"r":"Jensen-Shannon","x":357,"x2":361,"k":"c6"},{"r":"Jensen-Shannon","x":361,"x2":365,"k":"c5"},{"r":"Jensen-Shannon","x":365,"x2":369,"k":"c2"},{"r":"Jensen-Shannon","x":369,"x2":373,"k":"c1"},{"r":"Jensen-Shannon","x":373,"x2":377,"k":"c2"},{"r":"Jensen-Shannon","x":377,"x2":381,"k":"c1"},{"r":"Jensen-Shannon","x":381,"x2":385,"k":"c2"},{"r":"Jensen-Shannon","x":385,"x2":389,"k":"c1"},{"r":"Jensen-Shannon","x":389,"x2":393,"k":"c2"},{"r":"Jensen-Shannon","x":393,"x2":397,"k":"c1"},{"r":"Jensen-Shannon","x":397,"x2":401,"k":"c8"},{"r":"Jensen-Shannon","x":401,"x2":405,"k":"c1"},{"r":"Jensen-Shannon","x":405,"x2":409,"k":"c2"},{"r":"Jensen-Shannon","x":409,"x2":413,"k":"c1"},{"r":"Jensen-Shannon","x":413,"x2":417,"k":"c2"},{"r":"Jensen-Shannon","x":417,"x2":421,"k":"c1"},{"r":"Jensen-Shannon","x":421,"x2":425,"k":"c2"},{"r":"Jensen-Shannon","x":425,"x2":429,"k":"c1"},{"r":"Jensen-Shannon","x":429,"x2":433,"k":"c3"},{"r":"Jensen-Shannon","x":433,"x2":437,"k":"c1"},{"r":"Jensen-Shannon","x":437,"x2":441,"k":"c2"},{"r":"Jensen-Shannon","x":441,"x2":445,"k":"c1"},{"r":"Jensen-Shannon","x":445,"x2":450,"k":"c2"}
]
},
"hconcat":[
 {"vconcat":[
   {"width":190,"height":13,"data":{"values":[]},"mark":"point"},
   {"width":190,"height":465,
    "view":{"fill":"#ebebeb","stroke":null},
    "title":{"text":"a","anchor":"start","frame":"group","dx":-39,"offset":3,"fontSize":16,"fontWeight":"bold","color":"black"},
    "layer":[
     {"data":{"name":"minor"},"mark":{"type":"rule","color":"white","strokeWidth":0.6},
      "encoding":{"y":{"field":"m","type":"quantitative","title":"Relative abundance (%)","scale":{"domain":[-5,105],"nice":false,"zero":false}}}},
     {"data":{"name":"abund"},"mark":{"type":"bar","stroke":"#2b2b2b","strokeWidth":0.45},
      "encoding":{
       "x":{"field":"c","type":"ordinal","title":"Classes","scale":{"paddingInner":0.0845,"paddingOuter":0.592},
            "axis":{"title":"Classes","titleFontSize":13.5,"titleFontWeight":"normal","titleColor":"black","titlePadding":3,"labelAngle":0,"labelFontSize":11,"labelPadding":2,"tickSize":3,"tickColor":"#333333","domain":false,"grid":true,"gridColor":"white","gridWidth":1.1,"bandPosition":0.5,
              "encode":{"labels":{"update":{"fill":{"signal":"datum.value == 1 ? '#e41a1c' : datum.value == 2 ? '#33a02c' : datum.value == 3 ? '#f4a3b4' : datum.value == 4 ? '#f2cc1d' : datum.value == 5 ? '#29b6e8' : '#a0a0a0'"}}}}}},
       "y":{"field":"v","type":"quantitative","title":"Relative abundance (%)","stack":"zero","scale":{"domain":[-5,105],"nice":false,"zero":false},
            "axis":{"title":"Relative abundance (%)","values":[0,25,50,75,100],"titleFontSize":13.5,"titleFontWeight":"normal","titleColor":"black","titlePadding":2,"labelFontSize":10.5,"labelColor":"#4d4d4d","labelPadding":2,"tickSize":3,"tickColor":"#333333","domain":false,"grid":true,"gridColor":"white","gridWidth":1.1}},
       "color":{"field":"g","type":"nominal",
         "scale":{"domain":["Agrobacterium","Aurantimonas","Bosea","Brevundimonas","Burkholderia","Comamonas","Curtobacterium","Herbaspirillum","Klebsiella","Massilia","Novosphingobium","Paenibacillus","Pantoea","Paucimonas","Phyllobacterium","Pseudomonas","Rhizobium","Serratia","Sphingobium","Sphingomonas","Stenotrophomonas","Streptomyces","other"],
                  "range":["#7fc97f","#beaed4","#fdc086","#ffff99","#386cb0","#666666","#1b9e77","#d95f02","#7570b3","#e7298a","#66a61e","#e6ab02","#a6761d","#666666","#a6cee3","#1f78b4","#b2df8a","#33a02c","#fb9a99","#e31a1c","#fdbf6f","#ff7f00","#f5f5f5"]},
         "legend":{"title":"Genera","orient":"none","legendX":199,"legendY":13,"columns":2,"symbolType":"square","symbolSize":64,"symbolStrokeColor":"#555555","symbolStrokeWidth":0.6,"labelFontStyle":"italic","labelFontSize":10,"labelColor":"black","labelOffset":5,"titleFontSize":12,"titleFontWeight":"normal","titleColor":"black","titlePadding":5,"rowPadding":0.3,"columnPadding":11,"labelLimit":150,"padding":0}},
       "order":{"field":"g","sort":"descending"}
      }},
     {"data":{"name":"abund"},
      "transform":[{"filter":"datum.g === 'other'"},{"aggregate":[{"op":"sum","field":"v","as":"ot"}],"groupby":["c"]}],
      "mark":{"type":"bar","strokeWidth":0,"fill":{"gradient":"linear","x1":0,"y1":1,"x2":0,"y2":0,"stops":[{"offset":0,"color":"rgba(0,0,0,0)"},{"offset":0.4,"color":"rgba(0,0,0,0.04)"},{"offset":0.6,"color":"rgba(0,0,0,0.35)"},{"offset":0.74,"color":"rgba(0,0,0,0.85)"},{"offset":0.79,"color":"#000000"},{"offset":1,"color":"#000000"}]}},
      "encoding":{
       "x":{"field":"c","type":"ordinal","title":"Classes"},
       "y":{"field":"ot","type":"quantitative","title":"Relative abundance (%)","stack":null,"scale":{"domain":[-5,105],"nice":false,"zero":false}}
      }}
    ]}
  ],"spacing":0,"bounds":"flush"},
 {"vconcat":[
   {"hconcat":[
     {"width":226,"height":192,"data":{"values":[]},"mark":"point"},
     {"width":191,"height":192,
      "view":{"stroke":"#a8a8a8","strokeWidth":1},
      "title":{"text":"b","anchor":"start","frame":"group","dx":-38,"dy":9,"offset":0,"fontSize":16,"fontWeight":"bold","color":"black"},
      "data":{"name":"ch"},
      "mark":{"type":"bar","size":4,"color":"#e8151b"},
      "encoding":{
       "x":{"field":"k","type":"quantitative","scale":{"domain":[0.44,15.33],"nice":false,"zero":false},
            "axis":{"values":[2,4,6,8,10,12,14],"title":"k clusters","grid":false,"domain":false,"tickColor":"#444444","tickSize":4,"labelFontSize":9.5,"labelPadding":1,"labelColor":"#222222","titleFontSize":10,"titleFontWeight":"normal","titleColor":"#222222","titlePadding":3}},
       "y":{"field":"v","type":"quantitative","scale":{"domain":[12.88,30.88],"nice":false,"zero":false},
            "axis":{"values":[15,20,25,30],"title":"Calinski-Harabasz index","grid":false,"domain":false,"tickColor":"#444444","tickSize":4,"labelFontSize":9.5,"labelPadding":2,"labelColor":"#222222","titleFontSize":10,"titleFontWeight":"normal","titleColor":"#222222","titlePadding":5}},
       "y2":{"datum":12.88}
      }}
   ],"spacing":0,"bounds":"flush"},
   {"vconcat":[
     {"width":450,"height":257,
      "title":{"text":"c","anchor":"start","frame":"group","dx":-54,"dy":9.5,"offset":0,"fontSize":16,"fontWeight":"bold","color":"black"},
      "encoding":{
       "x":{"field":"x","type":"quantitative","scale":{"domain":[0,450],"nice":false,"zero":false},"axis":null},
       "y":{"field":"y","type":"quantitative","scale":{"domain":[0,5],"nice":false,"zero":false},
            "axis":{"values":[0,1,2,3,4,5],"format":"d","title":"log(Distance between samples) (metres)","offset":18,"tickSize":6,"tickColor":"#333333","domainColor":"#333333","labelFontSize":12,"labelColor":"black","labelPadding":3,"titleFontSize":12.5,"titleFontWeight":"normal","titleColor":"black","titlePadding":5,"grid":false}}
      },
      "layer":[
       {"data":{"name":"bd"},"mark":{"type":"rect","fill":"#2e2e2e","opacity":0.6},"encoding":{"x2":{"field":"x2"},"y2":{"datum":0}}},
       {"data":{"name":"vl"},"mark":{"type":"rule","color":"#6b6b6b","strokeWidth":1},"encoding":{"y2":{"field":"y2"}}},
       {"data":{"name":"hl"},"mark":{"type":"rule","color":"#6b6b6b","strokeWidth":1},"encoding":{"x2":{"field":"x2"}}},
       {"data":{"name":"bx"},"mark":{"type":"rule","strokeDash":[4,3],"strokeWidth":1.3},
        "encoding":{"x2":{"field":"x2"},"y2":{"field":"y2"},"color":{"field":"box","type":"nominal","scale":{"domain":["A","B","C"],"range":["#e23a3a","#4cd24c","#3838d0"]},"legend":null}}}
      ]},
     {"width":450,"height":33.5,
      "encoding":{
       "x":{"field":"x","type":"quantitative","scale":{"domain":[0,450],"nice":false,"zero":false},
            "axis":{"title":"Samples properties","labels":false,"ticks":false,"domain":false,"grid":false,"titleFontSize":13.5,"titleFontWeight":"normal","titleColor":"black","titlePadding":3}},
       "x2":{"field":"x2"},
       "y":{"field":"r","type":"nominal","scale":{"domain":["blank","Sites","Date","SparCC","Jensen-Shannon"],"paddingInner":0,"paddingOuter":0},
            "axis":{"title":null,"ticks":false,"domain":false,"labelFontSize":9,"labelPadding":2,"labelColor":"black","labelOverlap":false,"labelExpr":"datum.label == 'blank' ? '' : datum.label"}}
      },
      "layer":[
       {"data":{"name":"strip"},"mark":{"type":"rect"},
        "encoding":{"color":{"field":"k","type":"nominal","legend":null,
          "scale":{"domain":["s1","s2","s3","s4","s5","s6","s7","s8","s9","s10","s11","s12","d1","d2","d3","d4","d5","d6","d7","d8","d9","d10","d11","d12","d13","d14","d15","d16","d17","d18","d19","d20","c1","c2","c3","c4","c5","c6","c7","c8","c9"],
                   "range":["#ff8c00","#ffd700","#ee82ee","#ffb6c1","#66cdaa","#ffffff","#ff0000","#00bfff","#7cfc00","#add8e6","#008b00","#000000","#fa8072","#3a9a3a","#d63384","#7b6fb8","#4c9a9a","#3a7fc0","#6b6b6b","#daa520","#a57a2c","#6aa338","#b5e08c","#c3b3da","#8fd18f","#b0d4ec","#ffff99","#f7a8b8","#e6332a","#f4b860","#c8642a","#4a78b8","#ff1a1a","#ffb6c1","#87cefa","#a0a0a0","#ffd700","#32cd32","#0b6e0b","#ff8c00","#b8d335"]}}}},
       {"data":{"name":"outline"},"mark":{"type":"rect","filled":false,"color":"#444444","strokeWidth":0.8}}
      ]}
   ],"spacing":0,"bounds":"flush","resolve":{"scale":{"x":"independent","y":"independent","color":"independent"},"axis":{"x":"independent","y":"independent"}}}
 ],"spacing":203.7,"bounds":"flush","resolve":{"scale":{"x":"independent","y":"independent","color":"independent"},"axis":{"x":"independent","y":"independent"}}}
]
}
